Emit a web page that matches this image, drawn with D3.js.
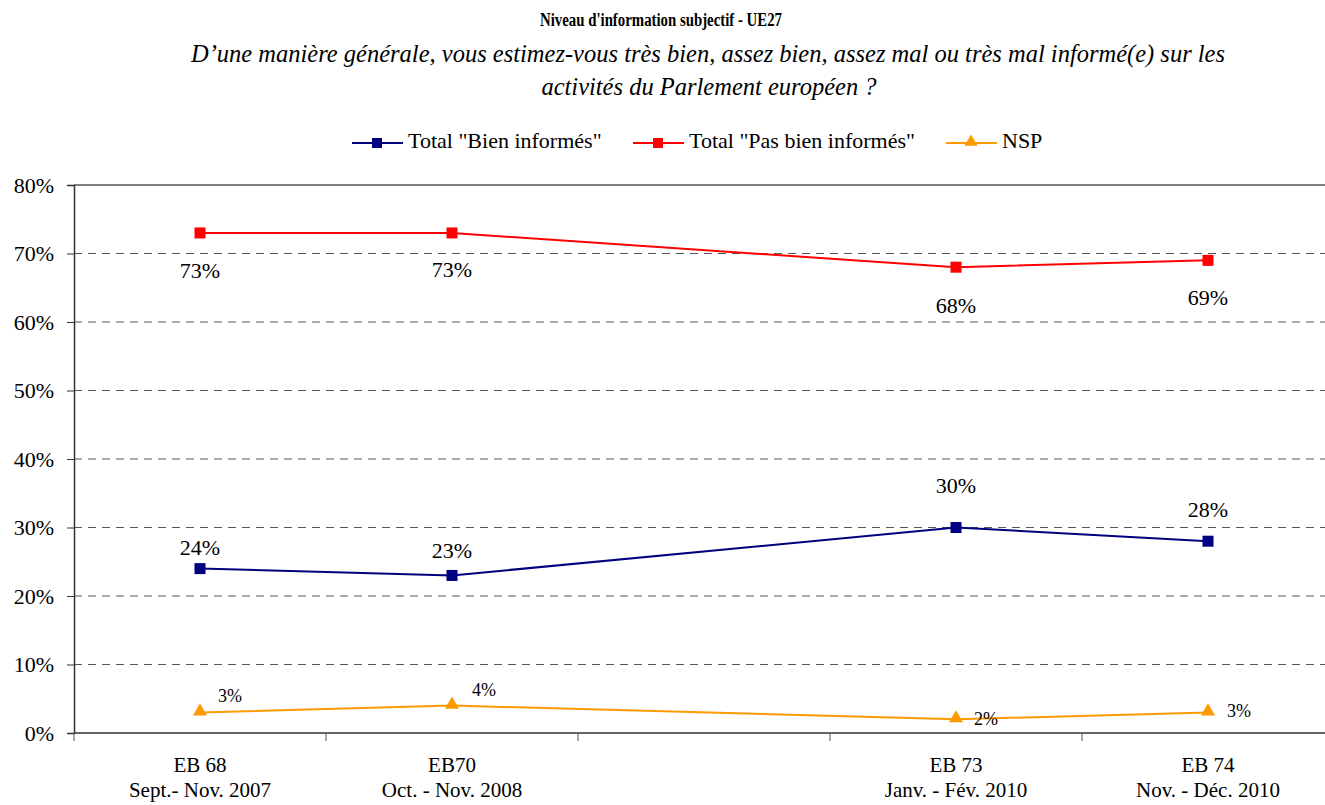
<!DOCTYPE html>
<html><head><meta charset="utf-8">
<script src="https://cdn.jsdelivr.net/npm/d3@7"></script>
<style>
body{margin:0;background:#fff;}
svg text{font-family:"Liberation Serif","Times New Roman",Times,serif;fill:#000;}
</style></head>
<body>
<svg id="chart" width="1325" height="805"></svg>
<script>
const categories = ["EB 68", "EB70", "", "EB 73", "EB 74"];
const periods = ["Sept.- Nov. 2007", "Oct. - Nov. 2008", "", "Janv. - Fév. 2010", "Nov. - Déc. 2010"];
const bienInformes = [24, 23, null, 30, 28];
const pasBienInformes = [73, 73, null, 68, 69];
const nsp = [3, 4, null, 2, 3];
const yTicks = [0, 10, 20, 30, 40, 50, 60, 70, 80];

const FONT = '"Liberation Serif", "Times New Roman", Times, serif';
const svg = d3.select("#chart");
const m = {left: 74, right: 1334, top: 185, bottom: 733};

const x = d3.scaleBand().domain(d3.range(categories.length)).range([m.left, m.right]);
const cx = i => x(i) + x.bandwidth() / 2;
const y = d3.scaleLinear().domain([0, 80]).range([m.bottom, m.top]);

// Title
svg.append("text").attr("x", 661).attr("y", 26).attr("text-anchor", "middle")
  .attr("textLength", 242).attr("lengthAdjust", "spacingAndGlyphs")
  .style("font-weight", "bold").style("font-size", "18px")
  .text("Niveau d'information subjectif - UE27");
svg.append("text").attr("x", 708).attr("y", 62).attr("text-anchor", "middle")
  .style("font-style", "italic").style("font-size", "24.5px")
  .text("D’une manière générale, vous estimez-vous très bien, assez bien, assez mal ou très mal informé(e) sur les");
svg.append("text").attr("x", 709).attr("y", 95).attr("text-anchor", "middle")
  .style("font-style", "italic").style("font-size", "24.5px")
  .text("activités du Parlement européen ?");

// Gridlines
svg.append("g").selectAll("line").data(yTicks.filter(d => d > 0)).join("line")
  .attr("x1", m.left).attr("x2", m.right)
  .attr("y1", d => y(d)).attr("y2", d => y(d))
  .attr("stroke", d => d === 80 ? "#808080" : "#555")
  .attr("stroke-width", d => d === 80 ? 2 : 1)
  .attr("stroke-dasharray", d => d === 80 ? null : "8,6");

// Y axis
const yAxis = d3.axisLeft(y).tickValues(yTicks).tickFormat(d => d + "%").tickSize(7).tickPadding(13);
const gy = svg.append("g").attr("transform", `translate(${m.left},0)`).call(yAxis)
  .attr("font-family", FONT);
gy.select(".domain").attr("stroke", "#333").attr("stroke-width", 1.5);
gy.selectAll(".tick line").attr("stroke", "#333");
gy.selectAll(".tick text").style("font-size", "22px").attr("fill", "#000");

// X axis
const xTickPositions = d3.range(categories.length + 1).map(i => m.left + i * x.step());
const xg = svg.append("g");
xg.append("line").attr("x1", m.left).attr("x2", m.right).attr("y1", y(0)).attr("y2", y(0))
  .attr("stroke", "#333").attr("stroke-width", 1.5);
xg.selectAll("line.t").data(xTickPositions).join("line").attr("class", "t")
  .attr("x1", d => d).attr("x2", d => d).attr("y1", y(0)).attr("y2", y(0) + 8)
  .attr("stroke", "#555").attr("stroke-width", 1);
xg.selectAll("text.c").data(categories).join("text").attr("class", "c")
  .attr("x", (d, i) => cx(i)).attr("y", 772).attr("text-anchor", "middle")
  .style("font-size", "21px").text(d => d);
xg.selectAll("text.p").data(periods).join("text").attr("class", "p")
  .attr("x", (d, i) => cx(i)).attr("y", 797).attr("text-anchor", "middle")
  .style("font-size", "21px").text(d => d);

const series = [
  {name: 'Total "Bien informés"', values: bienInformes, color: "#000080", marker: "square",
   dx: [0, 0, 0, 0, 0], dy: [-21, -25, 0, -42, -32], size: "22px"},
  {name: 'Total "Pas bien informés"', values: pasBienInformes, color: "#FF0000", marker: "square",
   dx: [0, 0, 0, 0, 0], dy: [38, 37, 0, 38, 37], size: "22px"},
  {name: "NSP", values: nsp, color: "#FF9900", marker: "triangle",
   dx: [30, 32, 0, 30, 31], dy: [-16, -16, 0, 0, -1], size: "18px"}
];

const line = d3.line().defined(d => d.v != null).x(d => cx(d.i)).y(d => y(d.v));
const tri = d3.symbol().type(d3.symbolTriangle).size(85);

series.forEach(s => {
  const pts = s.values.map((v, i) => ({v, i})).filter(d => d.v != null);
  svg.append("path").datum(pts).attr("d", line).attr("fill", "none")
    .attr("stroke", s.color).attr("stroke-width", 2);
  const g = svg.append("g");
  if (s.marker === "square") {
    g.selectAll("rect").data(pts).join("rect")
      .attr("x", d => cx(d.i) - 5.5).attr("y", d => y(d.v) - 5.5).attr("width", 11).attr("height", 11)
      .attr("fill", s.color);
  } else {
    g.selectAll("path").data(pts).join("path").attr("d", tri)
      .attr("transform", d => `translate(${cx(d.i)},${y(d.v) - 1})`).attr("fill", s.color);
  }
  svg.append("g").selectAll("text").data(pts).join("text")
    .attr("x", d => cx(d.i) + s.dx[d.i]).attr("y", d => y(d.v) + s.dy[d.i])
    .attr("text-anchor", "middle").attr("dominant-baseline", "central")
    .style("font-size", s.size).text(d => d.v + "%");
});

// Legend
const legend = [
  {s: series[0], x: 352},
  {s: series[1], x: 633},
  {s: series[2], x: 946}
];
const lg = svg.append("g");
legend.forEach(l => {
  const ly = 143;
  lg.append("line").attr("x1", l.x).attr("x2", l.x + 51).attr("y1", ly).attr("y2", ly)
    .attr("stroke", l.s.color).attr("stroke-width", 2);
  if (l.s.marker === "square") {
    lg.append("rect").attr("x", l.x + 20).attr("y", ly - 5).attr("width", 10).attr("height", 10).attr("fill", l.s.color);
  } else {
    lg.append("path").attr("d", d3.symbol().type(d3.symbolTriangle).size(75)())
      .attr("transform", `translate(${l.x + 25},${ly - 1})`).attr("fill", l.s.color);
  }
  lg.append("text").attr("x", l.x + 56).attr("y", 148)
    .style("font-size", "22px").text(l.s.name);
});
svg.selectAll("text").style("font-family", FONT);
</script>
</body></html>
